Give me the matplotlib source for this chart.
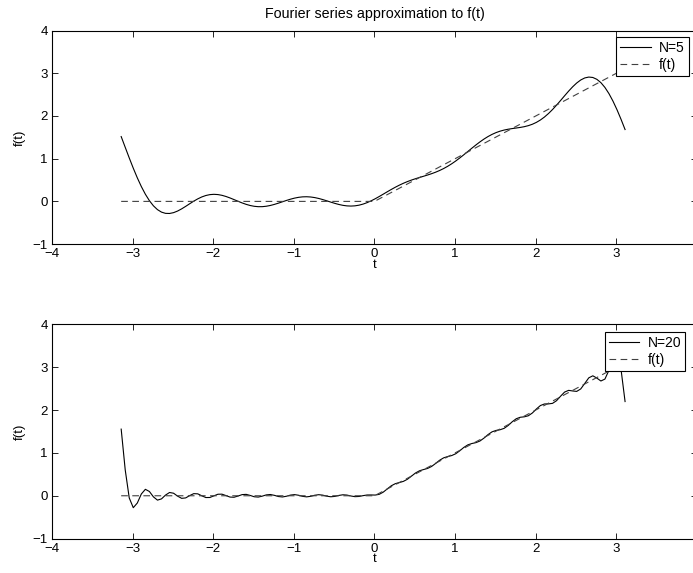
import numpy as np
import matplotlib
matplotlib.use("Agg")
import matplotlib.pyplot as plt

plt.rcParams['font.family'] = ['Liberation Sans', 'DejaVu Sans']
plt.rcParams['font.size'] = 10

# Fourier coefficients of f(t) = 0 (t<0), t (t>=0) on [-pi, pi]
a0_half = 0.7854
a_coef = [-0.6366, 0.0, -0.0707, 0.0, -0.0255, 0.0, -0.0130, 0.0, -0.00786, 0.0,
          -0.00526, 0.0, -0.00377, 0.0, -0.00283, 0.0, -0.00220, 0.0, -0.00176, 0.0]
b_coef = [1.0, -0.5, 0.3333, -0.25, 0.2, -0.1667, 0.1429, -0.125, 0.1111, -0.1,
          0.0909, -0.0833, 0.0769, -0.0714, 0.0667, -0.0625, 0.0588, -0.0556, 0.0526, -0.05]
n_terms = [5, 20]

# the target function itself (piecewise linear)
f_t = [-3.1416, 0.0, 3.1084]
f_y = [0.0, 0.0, 3.1084]

# sample grid used in the original (step 0.05, stops just short of pi)
t = np.arange(-np.pi, np.pi, 0.05)


def partial_sum(N):
    s = np.full_like(t, a0_half)
    for n in range(1, N + 1):
        s += a_coef[n - 1] * np.cos(n * t) + b_coef[n - 1] * np.sin(n * t)
    return s


fig = plt.figure(figsize=(6.93, 5.73), dpi=100)
positions = [[0.075, 0.574, 0.9307, 0.3726], [0.075, 0.060, 0.9307, 0.3740]]
legend_anchor = [(0.994, 0.936), (0.989, 0.421)]

for k, N in enumerate(n_terms):
    ax = fig.add_axes(positions[k])
    ax.plot(t, partial_sum(N), color='k', lw=0.8, label='N=%d' % N)
    ax.plot(f_t, f_y, color='0.25', lw=0.8, ls=(0, (6, 4)), label='f(t)')
    ax.set_xlim(-4, 4)
    ax.set_ylim(-1, 4)
    ax.set_xticks(range(-4, 5))
    ax.set_yticks(range(-1, 5))
    ax.tick_params(direction='in', length=4, width=0.6, top=True, right=True,
                   pad=3, labelsize=9.5)
    for sp in ax.spines.values():
        sp.set_linewidth(0.8)
    ax.set_xlabel('t', labelpad=-1, fontsize=9.5)
    ax.set_ylabel('f(t)', labelpad=5, fontsize=9.5)
    leg = ax.legend(loc='upper right', bbox_to_anchor=legend_anchor[k],
                    bbox_transform=fig.transFigure, fancybox=False, framealpha=1,
                    edgecolor='k', borderpad=0.3, handlelength=2.2, labelspacing=0.2,
                    borderaxespad=0, handletextpad=0.6, fontsize=10)
    leg.get_frame().set_linewidth(0.8)
    if k == 0:
        ax.set_title('Fourier series approximation to f(t)', fontsize=10.3, pad=9)

fig.savefig('out.png', dpi=100)
